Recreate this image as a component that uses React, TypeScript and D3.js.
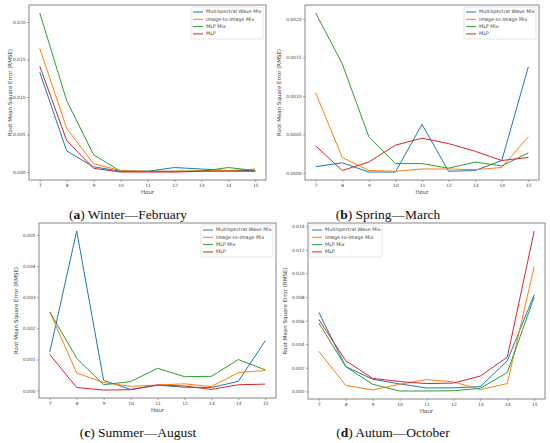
import { useEffect, useRef } from "react"
import * as d3 from "d3"

const hours = [7, 8, 9, 10, 11, 12, 13, 14, 15]
const seriesNames = ["Multispectral Wave Mix", "Image-to-Image Mix", "MLP Mix", "MLP"]
const colors = ["#1f77b4", "#ff7f0e", "#2ca02c", "#d62728"]

// (a) Winter
const winterWave = [0.0133, 0.0028, 0.0007, 0.0001, 0.0001, 0.0006, 0.0004, 0.0002, 0.0002]
const winterImage = [0.0165, 0.0058, 0.0011, 0.0002, 0.0001, 0.0001, 0.0002, 0.0002, 0.0004]
const winterMlpMix = [0.0212, 0.0095, 0.0023, 0.0001, 0.0001, 0.0001, 0.0001, 0.0006, 0.0002]
const winterMlp = [0.0141, 0.0042, 0.0005, 0.0, 0.0, 0.0, 0.0001, 0.0001, 0.0001]

// (b) Spring
const springWave = [0.00008, 0.00013, 0.00001, 0.00001, 0.00063, 0.00002, 0.00003, 0.00016, 0.00138]
const springImage = [0.00104, 0.0002, 0.00003, 0.00002, 0.00005, 0.00005, 0.00004, 0.00007, 0.00047]
const springMlpMix = [0.00208, 0.00142, 0.00047, 0.00012, 0.00012, 0.00006, 0.00014, 0.00009, 0.00026]
const springMlp = [0.00035, 0.00003, 0.00014, 0.00036, 0.00045, 0.00038, 0.00028, 0.00016, 0.0002]

// (c) Summer
const summerWave = [0.00124, 0.00513, 0.00033, 0.00004, 0.00018, 0.00011, 0.0001, 0.0003, 0.0016]
const summerImage = [0.00253, 0.00057, 0.00026, 0.00014, 0.00018, 0.00022, 0.00013, 0.00058, 0.00065]
const summerMlpMix = [0.00253, 0.00104, 0.00019, 0.00029, 0.00072, 0.00045, 0.00046, 0.001, 0.00067]
const summerMlp = [0.00116, 0.0001, 0.00002, 0.00003, 0.00018, 0.00015, 0.00004, 0.00019, 0.00021]

// (d) Autumn
const autumnWave = [0.0067, 0.0021, 0.00103, 0.00063, 0.00029, 0.0003, 0.0004, 0.0026, 0.0082]
const autumnImage = [0.0034, 0.0005, 0.00012, 0.0006, 0.001, 0.0008, 0.00015, 0.00066, 0.0106]
const autumnMlpMix = [0.0058, 0.0021, 0.0006, 0.00003, 0.00003, 0.00005, 0.00026, 0.0016, 0.008]
const autumnMlp = [0.0061, 0.0026, 0.0011, 0.00083, 0.00066, 0.0007, 0.0013, 0.0029, 0.0136]

const winterTicks = [0, 0.005, 0.01, 0.015, 0.02]
const springTicks = [0, 0.0005, 0.001, 0.0015, 0.002]
const summerTicks = [0, 0.001, 0.002, 0.003, 0.004, 0.005]
const autumnTicks = [0, 0.002, 0.004, 0.006, 0.008, 0.01, 0.012, 0.014]

const panels = [
  {
    series: [winterWave, winterImage, winterMlpMix, winterMlp],
    ticks: winterTicks, fmt: ".3f",
    frame: { left: 29, top: 5, right: 266, bottom: 180 },
    ylabelX: 10, legend: "right",
    letter: "a", caption: " Winter\u2014February", capX: 128, capY: 219,
  },
  {
    series: [springWave, springImage, springMlpMix, springMlp],
    ticks: springTicks, fmt: ".4f",
    frame: { left: 305, top: 5, right: 539, bottom: 180 },
    ylabelX: 279, legend: "right",
    letter: "b", caption: " Spring\u2014March", capX: 388, capY: 219,
  },
  {
    series: [summerWave, summerImage, summerMlpMix, summerMlp],
    ticks: summerTicks, fmt: ".3f",
    frame: { left: 39, top: 223, right: 276, bottom: 398 },
    ylabelX: 16, legend: "right",
    letter: "c", caption: " Summer\u2014August", capX: 138, capY: 437,
  },
  {
    series: [autumnWave, autumnImage, autumnMlpMix, autumnMlp],
    ticks: autumnTicks, fmt: ".3f",
    frame: { left: 308, top: 223, right: 545, bottom: 399 },
    ylabelX: 285, legend: "left",
    letter: "d", caption: " Autum\u2014October", capX: 393, capY: 437,
  },
]

const sans = "'DejaVu Sans', sans-serif"

export default function App() {
  const svgRef = useRef<SVGSVGElement>(null)

  useEffect(() => {
    if (!svgRef.current) return
    const root = d3.select(svgRef.current)
    root.selectAll("*").remove()

    root.append("rect").attr("width", 550).attr("height", 443).attr("fill", "#fff")

    panels.forEach((p) => {
      const { left, top, right, bottom } = p.frame
      const g = root.append("g")

      const all = p.series.flat()
      const mn = d3.min(all) as number
      const mx = d3.max(all) as number
      const pad = (mx - mn) * 0.05
      const y = d3.scaleLinear().domain([mn - pad, mx + pad]).range([bottom, top])
      const x = d3.scaleLinear().domain([6.6, 15.4]).range([left, right])

      // eixos
      const xAxis = g
        .append("g")
        .attr("transform", `translate(0,${bottom})`)
        .call(d3.axisBottom(x).tickValues(hours).tickFormat(d3.format("d")).tickSize(2).tickPadding(1.5))
      const yAxis = g
        .append("g")
        .attr("transform", `translate(${left},0)`)
        .call(d3.axisLeft(y).tickValues(p.ticks).tickFormat(d3.format(p.fmt)).tickSize(2).tickPadding(1.5))
      ;[xAxis, yAxis].forEach((ax) => {
        ax.select(".domain").remove()
        ax.selectAll("line").attr("stroke", "#555").attr("stroke-width", 0.5)
        ax.selectAll("text").attr("fill", "#444").style("font-family", sans).style("font-size", "4.4px")
      })

      // linhas
      const line = d3
        .line<number>()
        .x((_, i) => x(hours[i]))
        .y((d) => y(d))
      p.series.forEach((s, i) => {
        g.append("path")
          .datum(s)
          .attr("fill", "none")
          .attr("stroke", colors[i])
          .attr("stroke-width", 1)
          .attr("stroke-linejoin", "round")
          .attr("d", line)
      })

      // moldura
      g.append("rect")
        .attr("x", left)
        .attr("y", top)
        .attr("width", right - left)
        .attr("height", bottom - top)
        .attr("fill", "none")
        .attr("stroke", "#555")
        .attr("stroke-width", 0.7)

      // rótulos
      g.append("text")
        .attr("x", (left + right) / 2)
        .attr("y", bottom + 14)
        .attr("text-anchor", "middle")
        .attr("fill", "#444")
        .style("font-family", sans)
        .style("font-size", "5.5px")
        .text("Hour")
      g.append("text")
        .attr("transform", `translate(${p.ylabelX},${(top + bottom) / 2}) rotate(-90)`)
        .attr("text-anchor", "middle")
        .attr("dominant-baseline", "middle")
        .attr("fill", "#444")
        .style("font-family", sans)
        .style("font-size", "5.5px")
        .text("Root Mean Square Error (RMSE)")

      // legenda
      const lw = 72
      const lh = 32
      const lx = p.legend === "right" ? right - 3 - lw : left + 2
      const ly = top + 2
      const leg = g.append("g").attr("transform", `translate(${lx},${ly})`)
      leg.append("rect")
        .attr("width", lw)
        .attr("height", lh)
        .attr("rx", 1.5)
        .attr("fill", "#fff")
        .attr("fill-opacity", 0.85)
        .attr("stroke", "#ccc")
        .attr("stroke-width", 0.5)
      seriesNames.forEach((name, i) => {
        const yy = 5 + i * 7.3
        leg.append("line")
          .attr("x1", 2)
          .attr("x2", 12)
          .attr("y1", yy)
          .attr("y2", yy)
          .attr("stroke", colors[i])
          .attr("stroke-width", 1)
        leg.append("text")
          .attr("x", 15)
          .attr("y", yy)
          .attr("dominant-baseline", "middle")
          .attr("fill", "#444")
          .style("font-family", sans)
          .style("font-size", "4.8px")
          .text(name)
      })

      // legenda da figura
      const cap = root
        .append("text")
        .attr("x", p.capX)
        .attr("y", p.capY)
        .attr("text-anchor", "middle")
        .attr("fill", "#111")
        .style("font-family", "'Liberation Serif', serif")
        .style("font-size", "13.5px")
      cap.append("tspan").text("(")
      cap.append("tspan").attr("font-weight", "bold").text(p.letter)
      cap.append("tspan").text(")" + p.caption)
    })
  }, [])

  return (
    <div style={{ position: "absolute", left: 0, top: 0 }}>
      <svg ref={svgRef} width={550} height={443} style={{ display: "block" }} />
    </div>
  )
}
